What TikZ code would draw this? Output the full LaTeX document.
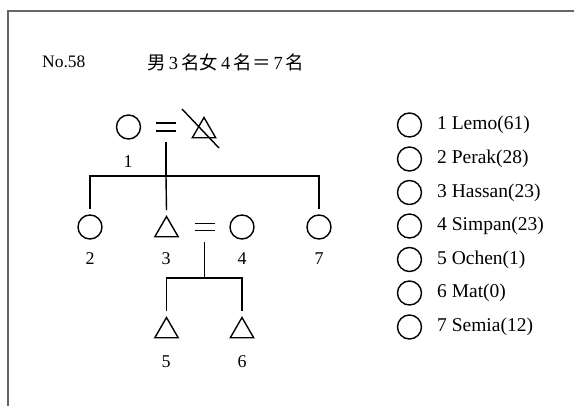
\documentclass[tikz,border=0pt]{standalone}
\usepackage{fontspec}
\setmainfont{Liberation Serif}
\newfontfamily\cjk{Noto Sans CJK SC}
\usetikzlibrary{shapes.geometric}
\begin{document}
\begin{tikzpicture}[x=1pt,y=-1pt,
  fem/.style={draw,circle,line width=1.4pt,minimum size=24pt,inner sep=0pt},
  mal/.style={draw,regular polygon,regular polygon sides=3,line width=1.4pt,minimum size=27pt,inner sep=0pt},
  lbl/.style={font=\fontsize{18}{18}\selectfont,inner sep=0pt},
  txt/.style={font=\fontsize{17.5}{18}\selectfont,inner sep=0pt,anchor=west},
  key/.style={font=\fontsize{19.5}{20}\selectfont,inner sep=0pt,anchor=west},
  ln/.style={line width=1.4pt}]
\useasboundingbox (0,0) rectangle (574,406);
\fill[white] (0,0) rectangle (574,406);
\draw[line width=2pt,color=black!60] (590,11) -- (8,11) -- (8,420);
% header
\node[txt] (no) at (42,62) {No.58};
\node[txt,font=\fontsize{18.5}{19}\selectfont] (sum) at (147,62) {{\cjk 男}\,3\,{\cjk 名女}\,4\,{\cjk 名＝}\,7\,{\cjk 名}};
% generation 1
\node[fem] (p1) at (128.5,127) {};
\node[mal] (p1h) at (204,131) {};
\coordinate (m1) at (166,127);
\draw[ln] ([shift={(-10,-4)}]m1) -- ([shift={(10,-4)}]m1);
\draw[ln] ([shift={(-10,4)}]m1) -- ([shift={(10,4)}]m1);
\draw[ln] ([shift={(-22,-22)}]p1h.center) -- ([shift={(15,17)}]p1h.center);
\node[lbl] (l1) at (128,162) {1};
% generation 2
\node[fem] (p2) at (90,227) {};
\node[mal] (p3) at (166.5,230) {};
\node[fem] (p4) at (242,227) {};
\node[fem] (p7) at (319,227) {};
\coordinate (m2) at (204.5,227);
\draw[ln] ([shift={(-10,-3.7)}]m2) -- ([shift={(10,-3.7)}]m2);
\draw[ln] ([shift={(-10,3.7)}]m2) -- ([shift={(10,3.7)}]m2);
\node[lbl] (l2) at (90,259) {2};
\node[lbl] (l3) at (166,259) {3};
\node[lbl] (l4) at (242,259) {4};
\node[lbl] (l7) at (319,259) {7};
\coordinate (b1) at (166,176);
\draw[ln] ([yshift=-15]m1) -- (b1);
\draw[ln] ([yshift=5]p2.north) -- (p2.north |- b1) -- (p7.north |- b1) -- ([yshift=5]p7.north);
\draw[ln] (b1) -- ([yshift=5]p3.north);
% generation 3
\node[mal] (p5) at (166.5,331) {};
\node[mal] (p6) at (242,331) {};
\node[lbl] (l5) at (166,362) {5};
\node[lbl] (l6) at (242,362) {6};
\coordinate (b2) at (204.5,278);
\draw[ln] ([yshift=-15]m2) -- (b2);
\draw[ln] ([yshift=5]p5.north) -- (p5.north |- b2) -- (p6.north |- b2) -- ([yshift=5]p6.north);
% legend
\foreach \i/\y/\t in {1/125/Lemo(61),2/159/Perak(28),3/192.5/Hassan(23),4/226/Simpan(23),5/259.5/Ochen(1),6/293/Mat(0),7/327/Semia(12)}{
  \node[fem] (k\i) at (409.5,\y) {};
  \node[key] (kt\i) at (437,\y) {\i{} \t};
}
\end{tikzpicture}
\end{document}
